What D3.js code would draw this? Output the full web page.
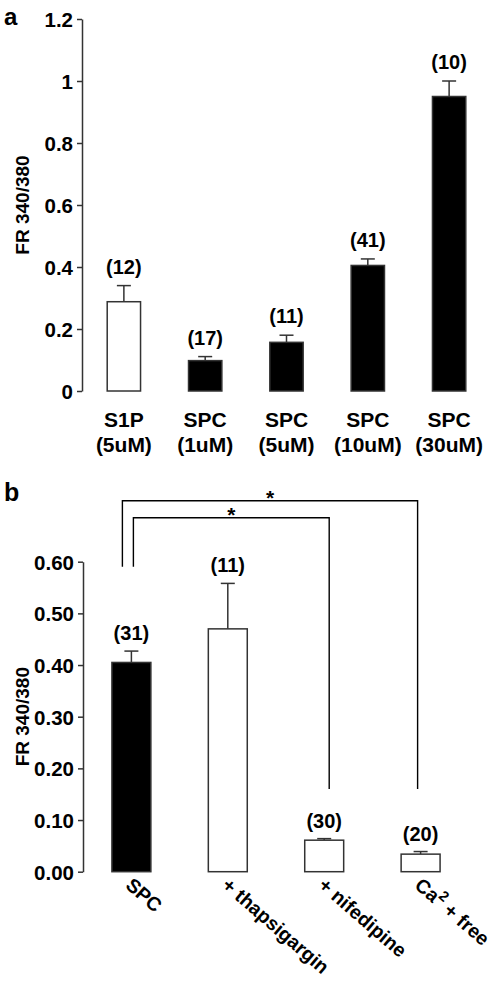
<!DOCTYPE html>
<html><head><meta charset="utf-8">
<script src="https://cdn.jsdelivr.net/npm/d3@7/dist/d3.min.js"></script>
<style>
html,body{margin:0;padding:0;background:#fff;}
text{font-family:"Liberation Sans",Arial,Helvetica,sans-serif;font-weight:bold;fill:#000;}
</style></head>
<body><svg id="c" width="500" height="982"></svg>
<script>
// Panel a data
const catsA = ["S1P|(5uM)", "SPC|(1uM)", "SPC|(5uM)", "SPC|(10uM)", "SPC|(30uM)"];
const valsA = [0.288, 0.098, 0.157, 0.405, 0.95];
const errA  = [0.052, 0.013, 0.023, 0.021, 0.05];
const nA    = ["(12)", "(17)", "(11)", "(41)", "(10)"];
const fillA = ["white", "black", "black", "black", "black"];
const ticksA = [0, 0.2, 0.4, 0.6, 0.8, 1, 1.2];
const tickLabelsA = ["0", "0.2", "0.4", "0.6", "0.8", "1", "1.2"];

// Panel b data
const catsB = ["SPC", "+ thapsigargin", "+ nifedipine", "Ca2 + free"];
const valsB = [0.405, 0.470, 0.061, 0.034];
const errB  = [0.022, 0.088, 0.003, 0.005];
const nB    = ["(31)", "(11)", "(30)", "(20)"];
const fillB = ["black", "white", "white", "white"];
const ticksB = [0, 0.1, 0.2, 0.3, 0.4, 0.5, 0.6];
const tickLabelsB = ["0.00", "0.10", "0.20", "0.30", "0.40", "0.50", "0.60"];
// significance brackets: from category, to category, bracket level (in y units)
const brFrom = ["SPC", "SPC"];
const brTo = ["Ca2 + free", "+ nifedipine"];
const brLevel = [0.718, 0.685];
const brLabel = ["*", "*"];

const svg = d3.select("#c");
const AX = "#333";

function panel(opts){
  const g = svg.append("g");
  const x = d3.scaleBand().domain(opts.cats).range(opts.xr).paddingInner(opts.pi).paddingOuter(opts.po);
  const y = d3.scaleLinear().domain(opts.yd).range(opts.yr);
  const ax = d3.axisLeft(y).tickValues(opts.ticks).tickFormat((d,i)=>opts.tickLabels[i])
    .tickSizeInner(5).tickSizeOuter(0).tickPadding(4);
  const ag = g.append("g").attr("transform", `translate(${opts.xr[0]},0)`).call(ax);
  ag.select(".domain").attr("stroke", AX).attr("stroke-width", 1.5);
  ag.selectAll(".tick line").attr("stroke", AX).attr("stroke-width", 1.5);
  ag.selectAll(".tick text").style("font-size","20.5px").attr("fill","#000").attr("dy","0.36em")
    .style("font-family",'"Liberation Sans",Arial,sans-serif').style("font-weight","bold");

  const bw = x.bandwidth();
  const cap = 14;
  opts.cats.forEach((c,i)=>{
    const cx = x(c) + bw/2;
    const top = y(opts.vals[i]);
    const et = y(opts.vals[i] + opts.err[i]);
    g.append("line").attr("x1",cx).attr("x2",cx).attr("y1",top).attr("y2",et).attr("stroke",AX).attr("stroke-width",1.5);
    g.append("line").attr("x1",cx-cap/2).attr("x2",cx+cap/2).attr("y1",et).attr("y2",et).attr("stroke",AX).attr("stroke-width",1.5);
    g.append("rect").attr("x",x(c)).attr("y",top).attr("width",bw).attr("height",y(0)-top)
      .attr("fill",opts.fills[i]).attr("stroke",AX).attr("stroke-width",1.5);
    g.append("text").attr("x",cx).attr("y",et-opts.nOff).attr("text-anchor","middle").style("font-size","20px").text(opts.n[i]);
  });
  return {g,x,y};
}

// Panel a
const A = panel({cats:catsA, vals:valsA, err:errA, n:nA, fills:fillA, ticks:ticksA, tickLabels:tickLabelsA,
  xr:[82,491], pi:0.59, po:0.31, yd:[0,1.2], yr:[391,19], nOff:12});
catsA.forEach(c=>{
  const cx = A.x(c) + A.x.bandwidth()/2;
  const parts = c.split("|");
  A.g.append("text").attr("x",cx).attr("y",426.5).attr("text-anchor","middle").style("font-size","21px").text(parts[0]);
  A.g.append("text").attr("x",cx).attr("y",451.5).attr("text-anchor","middle").style("font-size","21px").text(parts[1]);
});
svg.append("text").attr("transform",`translate(28.5,${(391+19)/2}) rotate(-90)`).attr("text-anchor","middle").style("font-size","19px").text("FR 340/380");
svg.append("text").attr("x",4).attr("y",24.5).style("font-size","24px").text("a");

// Panel b
const B = panel({cats:catsB, vals:valsB, err:errB, n:nB, fills:fillB, ticks:ticksB, tickLabels:tickLabelsB,
  xr:[83,469], pi:0.596, po:0.30, yd:[0,0.6], yr:[871.7,561.7], nOff:11});
catsB.forEach(c=>{
  const cx = B.x(c) + B.x.bandwidth()/2;
  const t = B.g.append("text").attr("transform",`translate(${cx-7},887) rotate(41)`).attr("text-anchor","start").style("font-size","19.5px");
  if (c.startsWith("Ca2")) {
    t.append("tspan").text("Ca");
    t.append("tspan").attr("dy",-8).style("font-size","14.5px").text("2");
    t.append("tspan").attr("dy",8).text(" + free");
  } else {
    t.text(c);
  }
});
svg.append("text").attr("transform",`translate(28.5,${(871.7+561.7)/2}) rotate(-90)`).attr("text-anchor","middle").style("font-size","19px").text("FR 340/380");
svg.append("text").attr("x",4).attr("y",501).style("font-size","25px").text("b");

// brackets
const legLeftBottom = 0.59, legRightBottom = 0.16;
const offL = [-9, 2], offR = [-3, 5];
brFrom.forEach((f,i)=>{
  const x1 = B.x(f) + B.x.bandwidth()/2 + offL[i];
  const x2 = B.x(brTo[i]) + B.x.bandwidth()/2 + offR[i];
  const yl = B.y(brLevel[i]);
  const path = d3.path();
  path.moveTo(x1, B.y(legLeftBottom));
  path.lineTo(x1, yl);
  path.lineTo(x2, yl);
  path.lineTo(x2, B.y(legRightBottom));
  svg.append("path").attr("d",path.toString()).attr("fill","none").attr("stroke","#000").attr("stroke-width",1.4);
  svg.append("text").attr("x",(x1+x2)/2).attr("y",yl+4).attr("text-anchor","middle").style("font-size","21px").text(brLabel[i]);
});
</script></body></html>
